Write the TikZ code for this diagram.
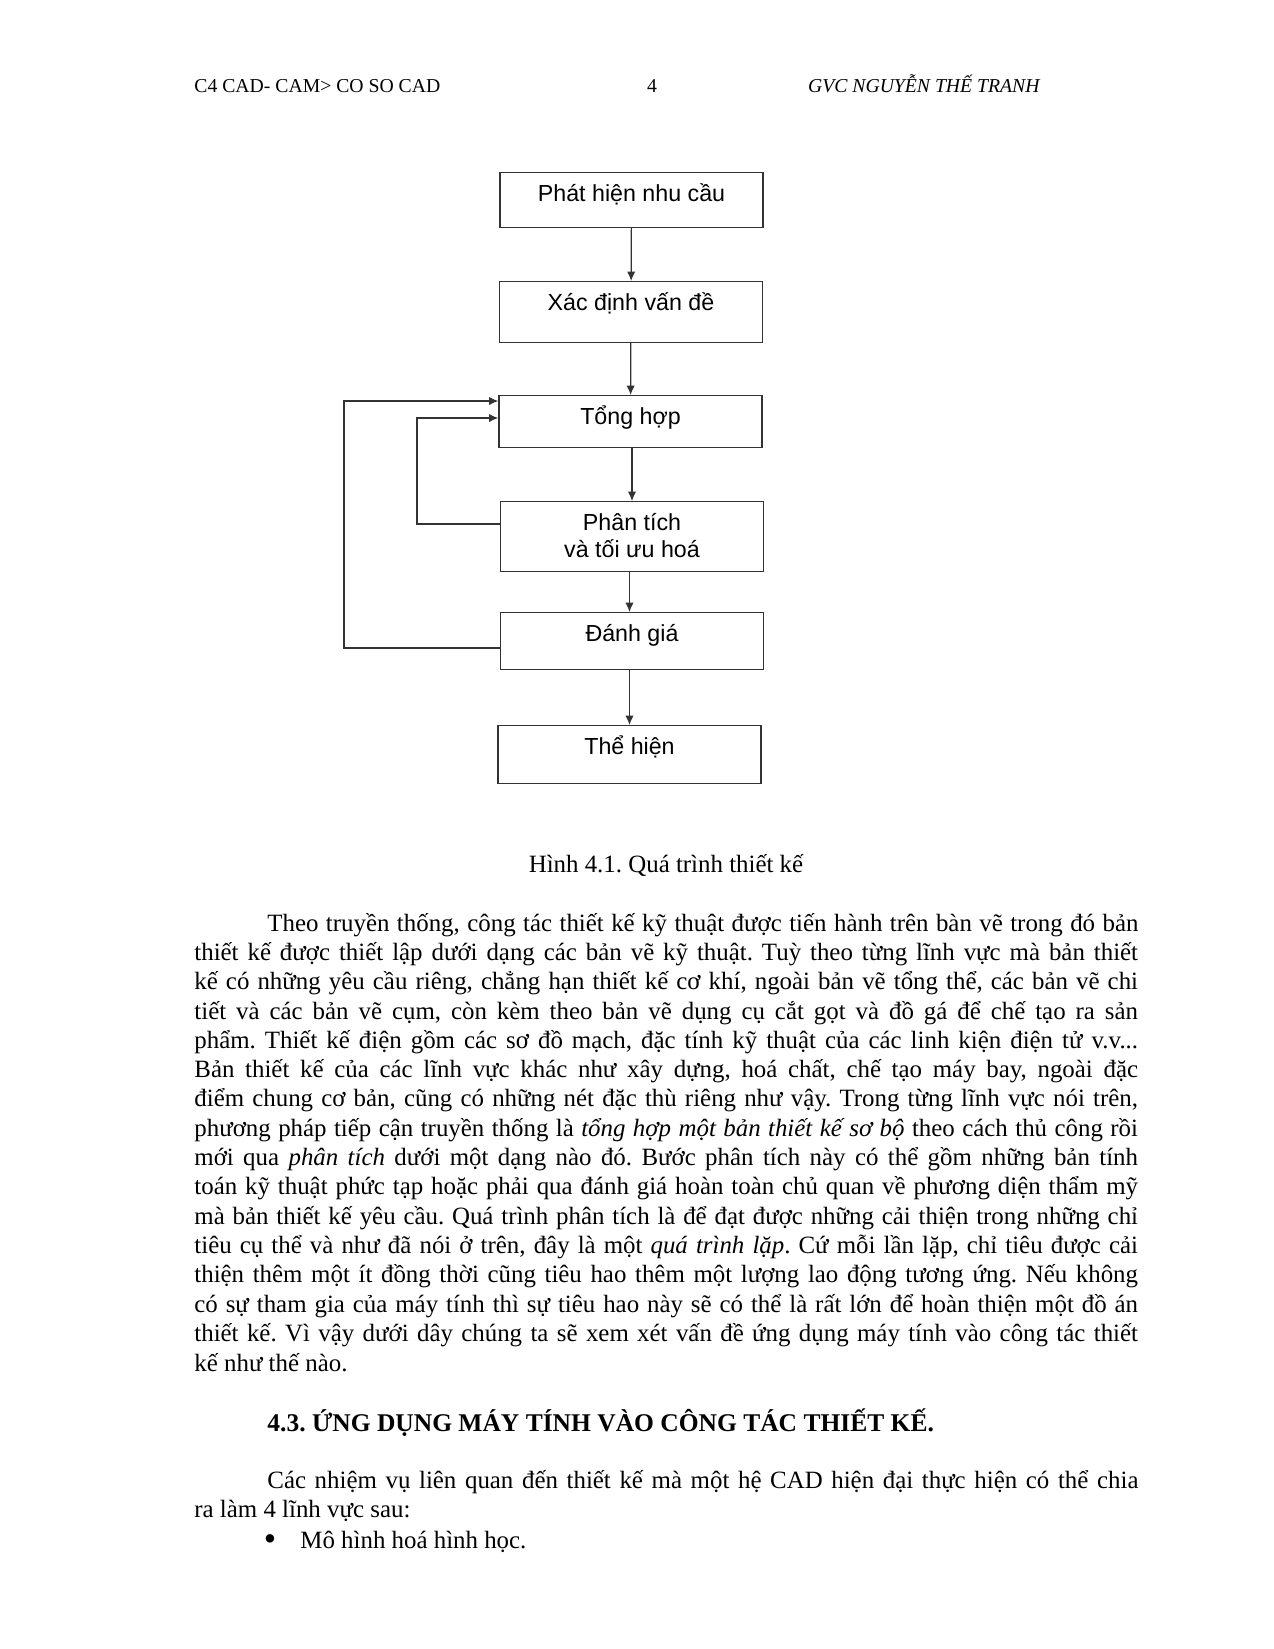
\documentclass[tikz,border=0pt]{standalone}
\usepackage{fontspec}
\setmainfont{Liberation Serif}
\setsansfont{Liberation Sans}
\usetikzlibrary{arrows.meta}
\frenchspacing

\begin{document}
\begin{tikzpicture}[x=0.4822pt, y=-0.4822pt, >={Latex[length=4.5pt,width=4pt]},
    procbox/.style={draw=black!80, line width=0.6pt, inner sep=0pt, anchor=north,
        minimum width=126.8pt, text height=13.8pt, align=center,
        font=\sffamily\fontsize{11.2}{12.9}\selectfont},
    flow/.style={draw=black!80, line width=0.6pt},
    textline/.style={anchor=base west, inner sep=0pt, font=\fontsize{12}{14}\selectfont},
    headline/.style={anchor=base, inner sep=0pt, font=\fontsize{9.5}{11}\selectfont}]
    \path[use as bounding box, fill=white] (0,0) rectangle (1274,1649);

    % Page header
    \node[headline, anchor=base west] (hleft) at (194,92) {C4 CAD- CAM> CO SO CAD};
    \node[headline] (hpage) at (652,92) {4};
    \node[headline, anchor=base east, font=\fontsize{9.5}{11}\selectfont\itshape] (hright) at (1040,92) {GVC NGUYỄN THẾ TRANH};

    % Process boxes
    \node[procbox, text depth=12.7pt] (b1) at (631.5,172) {Phát hiện nhu cầu};
    \node[procbox, text depth=15.6pt] (b2) at (631,281) {Xác định vấn đề};
    \node[procbox, text depth=11.3pt] (b3) at (630.5,395) {Tổng hợp};
    \node[procbox, text height=26.7pt, text depth=7.05pt] (b4) at (632,501) {Phân tích\\và tối ưu hoá};
    \node[procbox, text depth=13.7pt] (b5) at (632,612) {Đánh giá};
    \node[procbox, text depth=14.2pt] (b6) at (629.5,725) {Thể hiện};

    % Forward arrows
    \draw[flow, ->] (b1) -- (b2);
    \draw[flow, ->] (b2) -- (b3);
    \draw[flow, ->] (b4.north |- b3.south) -- (b4.north);
    \draw[flow, ->] (b4.south -| b6.north) -- (b5.north -| b6.north);
    \draw[flow, ->] (b5.south -| b6.north) -- (b6.north);

    % Feedback loops back to the synthesis box
    \coordinate (fbI) at (417,418);
    \coordinate (fbIb) at (417,524);
    \coordinate (fbO) at (344,401);
    \coordinate (fbOb) at (344,648);
    \draw[flow, ->] (b4.west |- fbIb) -- (fbIb) -- (fbI) -- (fbI -| b3.west);
    \draw[flow, ->] (b5.west |- fbOb) -- (fbOb) -- (fbO) -- (fbO -| b3.west);

    % Caption
    \node[textline, anchor=base] (cap) at (666,872) {Hình 4.1. Quá trình thiết kế};

    % Paragraph
    \node[textline] (L1) at (267,931) {\makebox[420pt][s]{Theo truyền thống, công tác thiết kế kỹ thuật được tiến hành trên bàn vẽ trong đó bản}};
    \foreach \n/\txt in {
        2/{thiết kế được thiết lập dưới dạng các bản vẽ kỹ thuật. Tuỳ theo từng lĩnh vực mà bản thiết},
        3/{kế có những yêu cầu riêng, chẳng hạn thiết kế cơ khí, ngoài bản vẽ tổng thể, các bản vẽ chi},
        4/{tiết và các bản vẽ cụm, còn kèm theo bản vẽ dụng cụ cắt gọt và đồ gá để chế tạo ra sản},
        5/{phẩm. Thiết kế điện gồm các sơ đồ mạch, đặc tính kỹ thuật của các linh kiện điện tử v.v...},
        6/{Bản thiết kế của các lĩnh vực khác như xây dựng, hoá chất, chế tạo máy bay, ngoài đặc},
        7/{điểm chung cơ bản, cũng có những nét đặc thù riêng như vậy. Trong từng lĩnh vực nói trên,},
        8/{phương pháp tiếp cận truyền thống là \textit{tổng hợp một bản thiết kế sơ bộ} theo cách thủ công rồi},
        9/{mới qua \textit{phân tích} dưới một dạng nào đó. Bước phân tích này có thể gồm những bản tính},
        10/{toán kỹ thuật phức tạp hoặc phải qua đánh giá hoàn toàn chủ quan về phương diện thẩm mỹ},
        11/{mà bản thiết kế yêu cầu. Quá trình phân tích là để đạt được những cải thiện trong những chỉ},
        12/{tiêu cụ thể và như đã nói ở trên, đây là một \textit{quá trình lặp}. Cứ mỗi lần lặp, chỉ tiêu được cải},
        13/{thiện thêm một ít đồng thời cũng tiêu hao thêm một lượng lao động tương ứng. Nếu không},
        14/{có sự tham gia của máy tính thì sự tiêu hao này sẽ có thể là rất lớn để hoàn thiện một đồ án},
        15/{thiết kế. Vì vậy dưới dây chúng ta sẽ xem xét vấn đề ứng dụng máy tính vào công tác thiết}} {
        \node[textline] (L\n) at (194,{931+(\n-1)*29.33}) {\makebox[455pt][s]{\txt}};
    }
    \node[textline] (L16) at (194,1371) {kế như thế nào.};

    % Section heading
    \node[textline, font=\fontsize{12.3}{14}\selectfont\bfseries] (sec) at (267,1431) {4.3. ỨNG DỤNG MÁY TÍNH VÀO CÔNG TÁC THIẾT KẾ.};

    % Second paragraph and list
    \node[textline] (P1) at (267,1488) {\makebox[420pt][s]{Các nhiệm vụ liên quan đến thiết kế mà một hệ CAD hiện đại thực hiện có thể chia}};
    \node[textline] (P2) at (194,1517) {ra làm 4 lĩnh vực sau:};
    \node[textline, anchor=base, font=\fontsize{17}{17}\selectfont] (bul) at (270,1550) {•};
    \node[textline] (item1) at (300,1548) {Mô hình hoá hình học.};
\end{tikzpicture}
\end{document}
